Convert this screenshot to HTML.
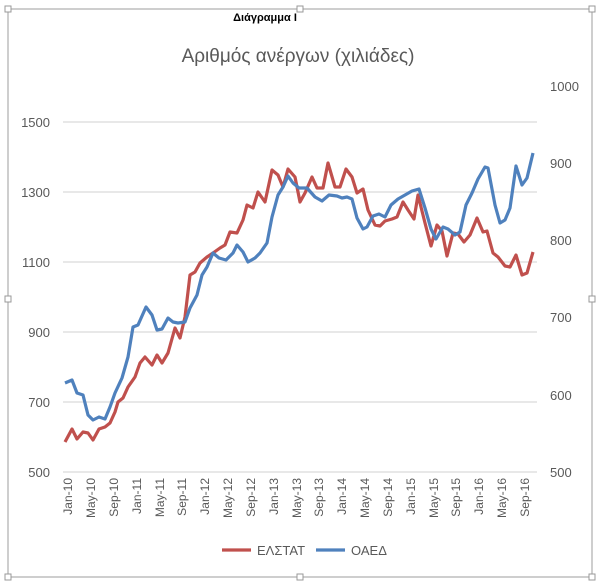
<!DOCTYPE html>
<html><head><meta charset="utf-8"><style>
body{margin:0;background:#fff;}
svg{display:block;font-family:"Liberation Sans","DejaVu Sans",sans-serif;}
</style></head><body>
<svg width="600" height="582" viewBox="0 0 600 582">
<rect x="0" y="0" width="600" height="582" fill="#fff"/>
<rect x="8" y="9" width="584" height="568" fill="none" stroke="#bdbdbd" stroke-width="1.5"/>
<g fill="#fff" stroke="#999" stroke-width="1">
<rect x="5" y="6" width="6" height="6"/><rect x="297" y="6" width="6" height="6"/><rect x="589" y="6" width="6" height="6"/>
<rect x="5" y="296" width="6" height="6"/><rect x="589" y="296" width="6" height="6"/>
<rect x="5" y="574" width="6" height="6"/><rect x="297" y="574" width="6" height="6"/><rect x="589" y="574" width="6" height="6"/>
</g>
<text x="265" y="21" font-size="11" font-weight="bold" text-anchor="middle" fill="#000">Διάγραμμα I</text>
<text x="298" y="62" font-size="19" text-anchor="middle" fill="#595959">Αριθμός ανέργων (χιλιάδες)</text>
<g stroke="#d9d9d9" stroke-width="1.2">
<line x1="63" y1="122" x2="537" y2="122"/><line x1="63" y1="192" x2="537" y2="192"/>
<line x1="63" y1="262" x2="537" y2="262"/><line x1="63" y1="332" x2="537" y2="332"/>
<line x1="63" y1="402" x2="537" y2="402"/><line x1="63" y1="472" x2="537" y2="472"/>
</g>
<g font-size="13" fill="#595959" text-anchor="end">
<text x="50" y="127">1500</text><text x="50" y="197">1300</text><text x="50" y="267">1100</text>
<text x="50" y="337">900</text><text x="50" y="407">700</text><text x="50" y="477">500</text>
</g>
<g font-size="13" fill="#595959" text-anchor="start">
<text x="550" y="91">1000</text><text x="550" y="168">900</text><text x="550" y="245">800</text>
<text x="550" y="322">700</text><text x="550" y="400">600</text><text x="550" y="477">500</text>
</g>
<polyline fill="none" stroke="#c0504d" stroke-width="3.2" stroke-linejoin="round" points="65,442 72,429 77,439 83,432 88,433 93,440 99,429 105,427 110,423 115,412 118,402 123,398 128,387 135,377 140,363 145,357 152,365 157,355 162,363 168,353 175,328 180,338 185,317 190,275 195,272 200,263 207,257 213,253 220,248 225,245 230,232 237,233 243,220 247,205 253,208 258,192 265,202 272,170 278,175 283,187 288,169 295,177 300,202 305,193 312,177 317,188 323,188 328,163 335,187 340,187 346,169 352,177 357,193 363,189 368,210 375,225 380,226 385,221 392,219 397,217 403,202 408,210 414,219 418,195 425,223 431,246 437,225 442,231 447,256 453,233 458,234 464,242 470,235 477,218 483,232 487,231 493,253 498,257 505,266 510,267 516,255 522,275 527,273 533,252"/>
<polyline fill="none" stroke="#4f81bd" stroke-width="3.2" stroke-linejoin="round" points="65,383 72,380 77,393 83,395 88,415 93,420 99,417 105,419 110,407 115,393 122,378 128,357 133,327 138,325 146,307 152,315 157,330 162,329 168,318 173,322 178,323 185,322 190,308 197,295 202,275 207,267 213,253 219,258 226,260 233,253 237,245 243,252 248,262 255,258 260,253 267,243 272,217 278,195 283,187 288,176 293,183 299,188 307,188 315,197 322,201 329,195 337,196 342,198 347,197 352,199 357,218 363,229 367,227 373,216 379,214 385,217 391,205 398,199 405,195 412,191 419,189 425,208 431,229 436,239 443,227 448,229 455,235 460,232 466,205 472,193 478,179 485,167 488,168 495,205 500,223 505,220 510,208 516,166 522,185 527,178 533,153"/>
<line x1="222" y1="550" x2="251" y2="550" stroke="#c0504d" stroke-width="3.2"/>
<text x="257" y="555" font-size="13" fill="#595959">ΕΛΣΤΑΤ</text>
<line x1="316" y1="550" x2="345" y2="550" stroke="#4f81bd" stroke-width="3.2"/>
<text x="351" y="555" font-size="13" fill="#595959">ΟΑΕΔ</text>
<g font-size="12" fill="#595959" text-anchor="end">
<text transform="translate(72,478) rotate(-90)">Jan-10</text>
<text transform="translate(95,478) rotate(-90)">May-10</text>
<text transform="translate(118,478) rotate(-90)">Sep-10</text>
<text transform="translate(141,478) rotate(-90)">Jan-11</text>
<text transform="translate(164,478) rotate(-90)">May-11</text>
<text transform="translate(186,478) rotate(-90)">Sep-11</text>
<text transform="translate(209,478) rotate(-90)">Jan-12</text>
<text transform="translate(232,478) rotate(-90)">May-12</text>
<text transform="translate(255,478) rotate(-90)">Sep-12</text>
<text transform="translate(278,478) rotate(-90)">Jan-13</text>
<text transform="translate(301,478) rotate(-90)">May-13</text>
<text transform="translate(323,478) rotate(-90)">Sep-13</text>
<text transform="translate(346,478) rotate(-90)">Jan-14</text>
<text transform="translate(369,478) rotate(-90)">May-14</text>
<text transform="translate(392,478) rotate(-90)">Sep-14</text>
<text transform="translate(415,478) rotate(-90)">Jan-15</text>
<text transform="translate(438,478) rotate(-90)">May-15</text>
<text transform="translate(460,478) rotate(-90)">Sep-15</text>
<text transform="translate(483,478) rotate(-90)">Jan-16</text>
<text transform="translate(506,478) rotate(-90)">May-16</text>
<text transform="translate(529,478) rotate(-90)">Sep-16</text>
</g>
</svg>
</body></html>
